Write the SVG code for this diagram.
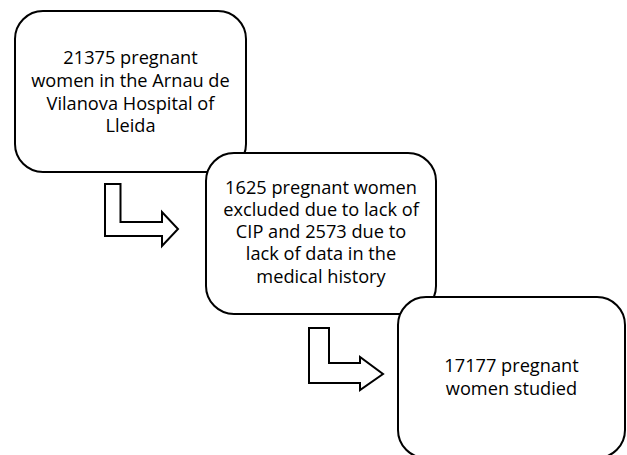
<svg xmlns="http://www.w3.org/2000/svg" width="627" height="455" viewBox="0 0 627 455">
<style>
.box{fill:#fff;stroke:#000;stroke-width:2}
.arr{fill:#fff;stroke:#000;stroke-width:2;stroke-linejoin:miter}
text{font-family:"Open Sans","Liberation Sans",Arial,sans-serif;font-size:18.2px;fill:#000;text-anchor:middle}
</style>
<rect width="627" height="455" fill="#fff"/>
<g id="node1">
<rect class="box" x="15" y="11" width="231" height="161" rx="28" ry="28"/>
<text x="130.5" y="64">21375 pregnant</text>
<text x="130.5" y="87">women in the Arnau de</text>
<text x="130.5" y="110">Vilanova Hospital of</text>
<text x="130.5" y="132">Lleida</text>
</g>
<g id="node2">
<rect class="box" x="206" y="153" width="230" height="161" rx="28" ry="28"/>
<text x="321" y="194">1625 pregnant women</text>
<text x="321" y="216">excluded due to lack of</text>
<text x="321" y="238">CIP and 2573 due to</text>
<text x="321" y="260">lack of data in the</text>
<text x="321" y="283">medical history</text>
</g>
<g id="node3">
<rect class="box" x="398" y="297" width="227" height="161" rx="28" ry="28"/>
<text x="511.5" y="372">17177 pregnant</text>
<text x="511.5" y="395">women studied</text>
</g>
<g id="connectors">
<polygon class="arr" points="105,184 120.5,184 120.5,222 162,222 162,212 178,229 162,246 162,236 105,236"/>
<polygon class="arr" points="309,328 329,328 329,363 360,363 360,357 383,374 360,390 360,383 309,383"/>
</g>
</svg>
